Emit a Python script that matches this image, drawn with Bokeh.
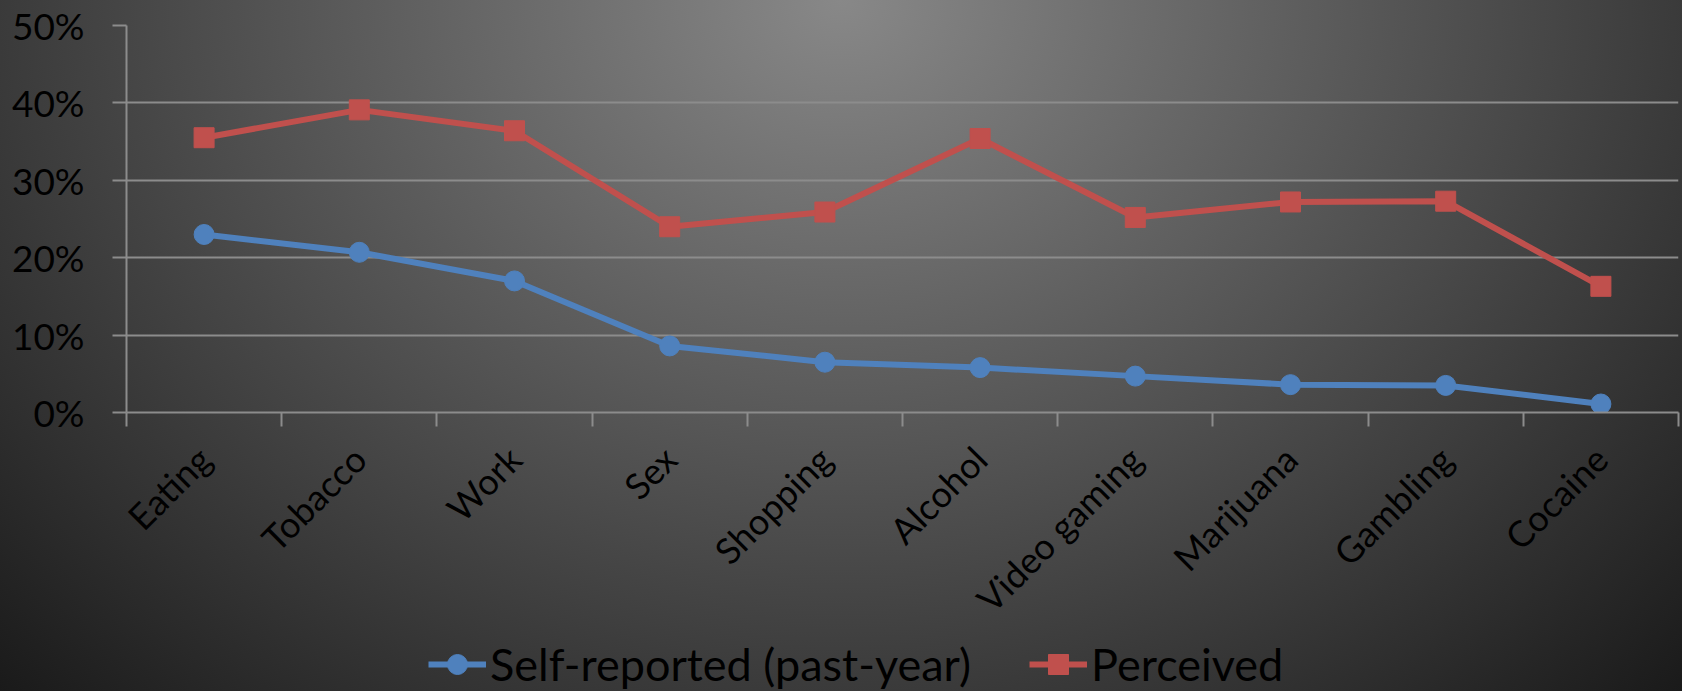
import math
from bokeh.plotting import figure
from bokeh.layouts import column
from bokeh.models import (Range1d, FixedTicker, NumeralTickFormatter, Legend, LegendItem,
                          ColumnDataSource)
from bokeh.embed import file_html
from bokeh.resources import INLINE

categories = ["Eating", "Tobacco", "Work", "Sex", "Shopping", "Alcohol",
              "Video gaming", "Marijuana", "Gambling", "Cocaine"]
self_reported = [0.230, 0.207, 0.170, 0.086, 0.065, 0.058, 0.047, 0.036, 0.035, 0.011]
perceived = [0.355, 0.391, 0.364, 0.240, 0.259, 0.354, 0.252, 0.272, 0.273, 0.163]
y_ticks = [0.0, 0.1, 0.2, 0.3, 0.4, 0.5]
series_names = ["Self-reported (past-year)", "Perceived"]

FONT = "Lato"
BLUE = "#4f81bd"
RED = "#c0504d"
GRID = "#8c8c8c"

xs = [i + 0.5 for i in range(len(categories))]
src = ColumnDataSource(dict(x=xs, s=self_reported, p=perceived))

p = figure(frame_width=1552, frame_height=387, title=None,
           x_range=Range1d(0, len(categories)), y_range=Range1d(0, 0.5),
           output_backend="svg", toolbar_location=None,
           min_border_left=126, min_border_right=4, min_border_top=25, min_border_bottom=226,
           background_fill_alpha=0, border_fill_alpha=0, outline_line_color=None)

# axes
xa = p.xaxis[0]
xa.ticker = FixedTicker(ticks=xs, minor_ticks=list(range(len(categories) + 1)))
xa.major_label_overrides = {x: c for x, c in zip(xs, categories)}
xa.major_tick_out = 0
xa.major_tick_in = 0
xa.minor_tick_out = 14
xa.minor_tick_in = 0
xa.minor_tick_line_color = GRID
xa.minor_tick_line_width = 2
xa.axis_line_color = GRID
xa.axis_line_width = 2
xa.major_label_orientation = math.pi / 4
xa.major_label_text_font = FONT
xa.major_label_text_font_size = "36px"
xa.major_label_text_color = "black"
xa.major_label_standoff = 26

ya = p.yaxis[0]
ya.ticker = FixedTicker(ticks=y_ticks, minor_ticks=[])
ya.formatter = NumeralTickFormatter(format="0%")
ya.major_tick_out = 14
ya.major_tick_in = 0
ya.major_tick_line_color = GRID
ya.major_tick_line_width = 2
ya.axis_line_color = GRID
ya.axis_line_width = 2
ya.major_label_text_font = FONT
ya.major_label_text_font_size = "37px"
ya.major_label_text_color = "black"
ya.major_label_standoff = 28

p.xgrid.grid_line_color = None
p.ygrid.ticker = FixedTicker(ticks=y_ticks)
p.ygrid.grid_line_color = GRID
p.ygrid.grid_line_width = 2

# series
p.line("x", "s", source=src, line_color=BLUE, line_width=6)
p.scatter("x", "s", source=src, marker="circle", size=20, fill_color=BLUE, line_color=BLUE)
p.line("x", "p", source=src, line_color=RED, line_width=6)
p.scatter("x", "p", source=src, marker="square", size=20, fill_color=RED, line_color=RED)

# legend strip (separate figure below, with proxy renderers drawn off-range)
lg = figure(width=1682, height=53, title=None, x_axis_type=None, y_axis_type=None,
            x_range=Range1d(0, 1), y_range=Range1d(0, 1),
            output_backend="svg", toolbar_location=None, min_border=0,
            background_fill_alpha=0, border_fill_alpha=0, outline_line_color=None)
lg.xgrid.grid_line_color = None
lg.ygrid.grid_line_color = None
proxy = ColumnDataSource(dict(x=[-10, -11], y=[-10, -11]))
r1 = lg.line("x", "y", source=proxy, line_color=BLUE, line_width=6)
r1m = lg.scatter("x", "y", source=proxy, marker="circle", size=20, fill_color=BLUE, line_color=BLUE)
r2 = lg.line("x", "y", source=proxy, line_color=RED, line_width=6)
r2m = lg.scatter("x", "y", source=proxy, marker="square", size=20, fill_color=RED, line_color=RED)

legend = Legend(items=[LegendItem(label=series_names[0], renderers=[r1, r1m]),
                       LegendItem(label=series_names[1], renderers=[r2, r2m])],
                orientation="horizontal", location=(302, 0),
                margin=0, padding=0, spacing=58, label_standoff=4,
                glyph_width=58, glyph_height=50,
                label_text_font=FONT, label_text_font_size="45px", label_text_color="black",
                background_fill_alpha=0, border_line_color=None)
lg.add_layout(legend, "center")

layout = column(p, lg, spacing=0)
layout.styles = {"background": "radial-gradient(ellipse farthest-corner at 50% 0%, #888888 0%, #1a1a1a 100%)"}

open("out.html", "w").write(file_html(layout, INLINE))
